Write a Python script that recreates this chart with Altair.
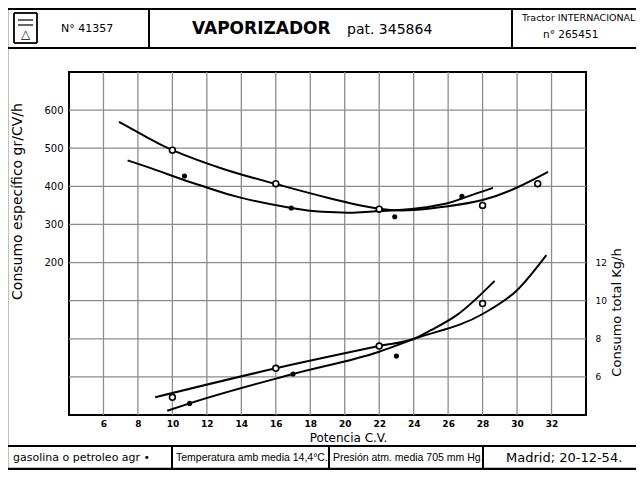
import altair as alt
import pandas as pd

FONT = "DejaVu Sans"

# ---------------- axes / grid ----------------
x_ticks = [6, 8, 10, 12, 14, 16, 18, 20, 22, 24, 26, 28, 30, 32]
x_grid = [6, 8, 10, 12, 14, 16, 18, 20, 22, 24, 26, 28, 30, 32]
y_grid = [-100, 0, 100, 200, 300, 400, 500, 600]
left_ticks = [200, 300, 400, 500, 600]
right_ticks = [6, 8, 10, 12]

# ---------------- consumo especifico (gr/CV/h) - left axis ----------------
gas_spec_curve_x = [6.9, 8.5, 10.0, 13.0, 16.0, 19.0, 22.0, 24.0, 26.0, 28.0, 30.0, 31.8]
gas_spec_curve_y = [569, 529, 495, 445, 406, 370, 341, 338, 348, 364, 397, 438]
pet_spec_curve_x = [7.4, 9.1, 10.7, 12.0, 13.9, 16.9, 18.7, 20.5, 22.0, 24.0, 25.9, 26.8, 28.6]
pet_spec_curve_y = [468, 442, 416, 397, 371, 343, 333, 331, 335, 341, 355, 368, 396]
gas_spec_pts_x = [10, 16, 22, 28, 31.2]
gas_spec_pts_y = [495, 407, 340, 350, 407]
pet_spec_pts_x = [10.7, 16.9, 22.9, 26.8]
pet_spec_pts_y = [427, 343, 320, 374]

# ---------------- consumo total (Kg/h) - right axis ----------------
gas_tot_curve_x = [9.0, 16.0, 22.0, 24.0, 25.0, 26.5, 28.7]
gas_tot_curve_y = [4.93, 6.45, 7.62, 8.0, 8.45, 9.24, 11.04]
pet_tot_curve_x = [9.7, 11.0, 17.0, 22.0, 24.0, 28.0, 30.0, 31.7]
pet_tot_curve_y = [4.22, 4.61, 6.15, 7.32, 7.98, 9.3, 10.55, 12.39]
gas_tot_pts_x = [10, 16, 22, 28]
gas_tot_pts_y = [4.93, 6.45, 7.62, 9.85]
pet_tot_pts_x = [11, 17, 23]
pet_tot_pts_y = [4.61, 6.15, 7.09]


def frame(xs, ys):
    return pd.DataFrame({"x": xs, "y": ys})


X = alt.X(
    "x:Q",
    scale=alt.Scale(domain=[4, 34], nice=False, zero=False),
    axis=alt.Axis(
        values=x_ticks, grid=False, ticks=False, tickSize=0, domain=False,
        labelFont=FONT, labelFontSize=9, labelFontWeight="bold", labelPadding=4,
        labelColor="black",
        title="Potencia C.V.", titleX=279, titleY=22, titleAlign="center",
        titleBaseline="middle", titleFont=FONT, titleFontSize=12,
        titleFontWeight="normal", titleColor="black",
    ),
)
Y1 = alt.Y(
    "y:Q",
    scale=alt.Scale(domain=[-200, 700], nice=False, zero=False),
    axis=alt.Axis(
        orient="left", values=left_ticks, grid=False, ticks=False, tickSize=0,
        domain=False, labelFont=FONT, labelFontSize=10, labelPadding=6,
        labelColor="black",
        title="Consumo específico gr/CV/h", titleAngle=270, titleX=-52, titleY=129,
        titleAlign="center", titleBaseline="middle", titleFont=FONT,
        titleFontSize=14, titleFontWeight="normal", titleColor="black",
    ),
)
Y2 = alt.Y(
    "y:Q",
    scale=alt.Scale(domain=[4, 22], nice=False, zero=False),
    axis=alt.Axis(
        orient="right", values=right_ticks, grid=False, ticks=False, tickSize=0,
        domain=False, labelFont=FONT, labelFontSize=9, labelPadding=9,
        labelColor="black",
        title="Consumo total Kg/h", titleAngle=270, titleX=30, titleY=240,
        titleAlign="center", titleBaseline="middle", titleFont=FONT,
        titleFontSize=13, titleFontWeight="normal", titleColor="black",
    ),
)

GRID = "#8c8c8c"

vgrid = alt.Chart(pd.DataFrame({"x": x_grid})).mark_rule(color=GRID, strokeWidth=1.3).encode(x=X)
hgrid = alt.Chart(pd.DataFrame({"y": y_grid})).mark_rule(color=GRID, strokeWidth=1.3).encode(y=Y1)


def curve(xs, ys, Y, interp):
    return alt.Chart(frame(xs, ys)).mark_line(
        color="black", strokeWidth=2, interpolate=interp
    ).encode(x=X, y=Y)


def open_pts(xs, ys, Y):
    return alt.Chart(frame(xs, ys)).mark_point(
        shape="circle", filled=True, fill="white", stroke="black",
        strokeWidth=1.6, size=34, opacity=1,
    ).encode(x=X, y=Y)


def dot_pts(xs, ys, Y):
    return alt.Chart(frame(xs, ys)).mark_point(
        shape="circle", filled=True, color="black", size=26, opacity=1
    ).encode(x=X, y=Y)


upper = alt.layer(
    vgrid, hgrid,
    curve(gas_spec_curve_x, gas_spec_curve_y, Y1, "natural"),
    curve(pet_spec_curve_x, pet_spec_curve_y, Y1, "natural"),
    open_pts(gas_spec_pts_x, gas_spec_pts_y, Y1),
    dot_pts(pet_spec_pts_x, pet_spec_pts_y, Y1),
)
lower = alt.layer(
    curve(gas_tot_curve_x, gas_tot_curve_y, Y2, "monotone"),
    curve(pet_tot_curve_x, pet_tot_curve_y, Y2, "monotone"),
    open_pts(gas_tot_pts_x, gas_tot_pts_y, Y2),
    dot_pts(pet_tot_pts_x, pet_tot_pts_y, Y2),
)

# ---------------- title block (header / footer) ----------------
one = pd.DataFrame({"k": [0]})


def hline(x1, x2, y, w=2):
    return alt.Chart(one).mark_rule(color="black", strokeWidth=w).encode(
        x=alt.value(x1), x2=alt.value(x2), y=alt.value(y))


def vline(x, y1, y2, w=2):
    return alt.Chart(one).mark_rule(color="black", strokeWidth=w).encode(
        x=alt.value(x), y=alt.value(y1), y2=alt.value(y2))


def label(text, x, y, size, weight="normal", align="left", font=FONT):
    return alt.Chart(one).mark_text(
        text=text, align=align, baseline="middle", fontSize=size,
        fontWeight=weight, font=font, color="black",
    ).encode(x=alt.value(x), y=alt.value(y))


NARROW = "Liberation Sans Narrow, Liberation Sans"

deco = alt.layer(
    # outer frame & header
    vline(-62, -64, 398, 2.5),
    hline(-62, 570, -63, 2),
    hline(-62, 570, -24, 2),
    vline(80, -64, -24, 2),
    vline(443, -64, -24, 2),
    # logo
    hline(-55, -32, -59, 1.8), hline(-55, -32, -29, 1.8),
    vline(-55, -59, -29, 1.8), vline(-32, -59, -29, 1.8),
    hline(-51, -36, -52, 1.2), hline(-51, -36, -47, 1.2),
    label("△", -43.5, -38, 12, align="center"),
    label("N° 41357", -8, -43, 11),
    label("VAPORIZADOR", 123, -43, 17, weight="bold"),
    label("pat. 345864", 278, -42, 14),
    label("Tractor INTERNACIONAL", 453, -54, 9.5),
    label("n° 265451", 474, -37, 10.5),
    # footer
    hline(-62, 570, 374, 2),
    hline(-62, 570, 397, 2.5),
    vline(103, 374, 397, 2),
    vline(260, 374, 397, 2),
    vline(414, 374, 397, 2),
    label("gasolina o petroleo agr •", -56, 386, 11),
    label("Temperatura amb media 14,4°C.", 107, 386, 10.5, font=NARROW),
    label("Presión atm. media 705 mm Hg.", 264, 386, 10.5, font=NARROW),
    label("Madrid; 20-12-54.", 437, 386, 13),
)

chart = (
    alt.layer(upper, lower, deco)
    .resolve_scale(y="independent")
    .properties(
        width=517, height=343,
        padding={"left": 61, "top": 64, "right": 50, "bottom": 55},
        autosize=alt.AutoSizeParams(type="none"),
        background="white",
    )
    .configure_view(stroke="black", strokeWidth=2)
)

chart.save("out.html", embed_options={"renderer": "svg", "actions": False})
